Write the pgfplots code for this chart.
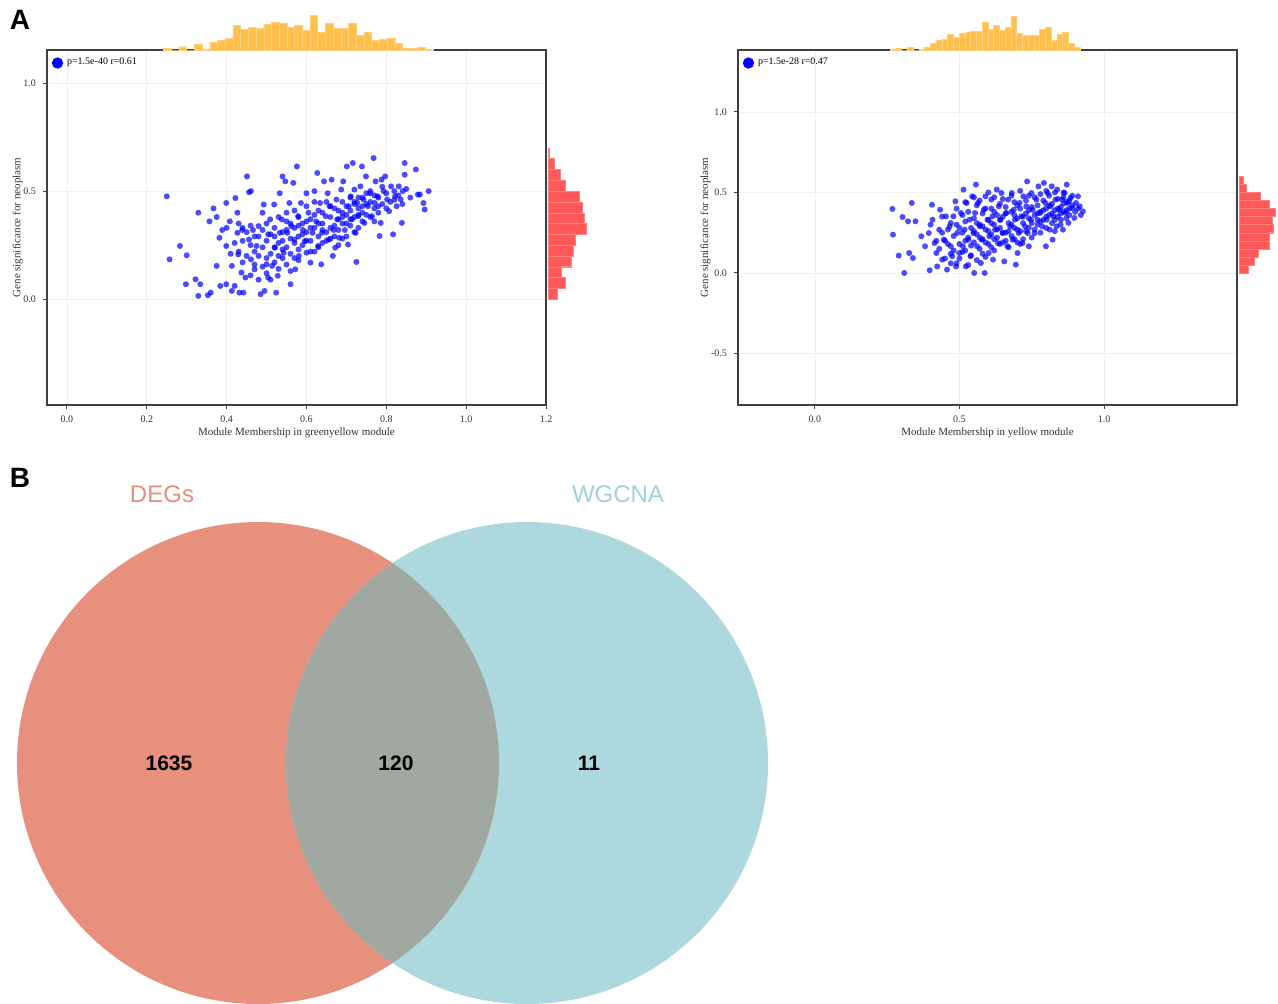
\documentclass[border=0pt]{standalone}
\usepackage{pgfplots}
\pgfplotsset{compat=1.18}
\usepackage{fontspec}
\setmainfont{Liberation Serif}
\newfontfamily\arial{Liberation Sans}
\definecolor{histor}{RGB}{255,192,77}
\definecolor{histred}{RGB}{255,88,88}
\definecolor{vred}{RGB}{232,144,126}
\definecolor{vblue}{RGB}{173,216,221}
\definecolor{vgray}{RGB}{161,168,162}
\definecolor{degtxt}{RGB}{234,140,122}
\definecolor{wgtxt}{RGB}{158,210,216}
\pgfplotsset{
  scat/.style={scale only axis, width=249.5pt, height=177.5pt,
    axis line style={draw=black!75, line width=0.7pt},
    grid=major, major grid style={gray!12, line width=0.4pt},
    tick align=outside, xtick pos=bottom, ytick pos=left, major tick length=2pt,
    tick style={black!75, line width=0.5pt},
    tick label style={font=\fontsize{5}{6}\selectfont, text=black!80},
    label style={font=\fontsize{5.5}{6.5}\selectfont, text=black!80},
    xlabel style={yshift=4.5pt}, ylabel style={yshift=-6.5pt},
    legend style={at={(0.005,0.995)}, anchor=north west, draw=none, fill=none,
      font=\fontsize{5}{6}\selectfont, inner sep=1pt},
    /pgf/number format/.cd, fixed, fixed zerofill, precision=1, assume math mode=true},
  scatpts/.style={only marks, mark=*, mark size=1.5pt, color=blue,
    mark options={fill=blue, draw=blue, fill opacity=0.7, draw opacity=0},
    legend image code/.code={\fill[blue] (0.05cm,0cm) circle (2.6pt);}},
  tophist/.style={hide axis, scale only axis, width=249.5pt, height=17.5pt, ymin=0, ymax=35, clip=false},
  sidehist/.style={hide axis, scale only axis, height=177.5pt, xmin=0, clip=false},
}
\pgfplotstableread{
x y
0.250 0.476
0.257 0.184
0.283 0.246
0.300 0.203
0.298 0.069
0.322 0.092
0.329 0.400
0.329 0.015
0.334 0.069
0.353 0.018
0.360 0.030
0.367 0.420
0.357 0.360
0.375 0.380
0.375 0.154
0.382 0.284
0.384 0.061
0.389 0.320
0.399 0.445
0.399 0.246
0.399 0.069
0.408 0.360
0.413 0.154
0.413 0.038
0.420 0.061
0.422 0.468
0.427 0.400
0.427 0.307
0.429 0.207
0.432 0.030
0.437 0.123
0.439 0.320
0.442 0.030
0.447 0.100
0.451 0.568
0.456 0.495
0.461 0.500
0.456 0.276
0.461 0.184
0.466 0.320
0.470 0.138
0.475 0.246
0.480 0.338
0.485 0.023
0.490 0.400
0.493 0.438
0.495 0.038
0.500 0.161
0.504 0.300
0.504 0.100
0.509 0.369
0.514 0.154
0.519 0.438
0.521 0.238
0.524 0.030
0.528 0.108
0.533 0.490
0.533 0.307
0.538 0.369
0.540 0.568
0.543 0.215
0.547 0.545
0.550 0.400
0.552 0.307
0.557 0.445
0.560 0.069
0.562 0.338
0.567 0.538
0.570 0.276
0.572 0.138
0.576 0.614
0.579 0.384
0.581 0.200
0.586 0.445
0.591 0.320
0.596 0.269
0.600 0.490
0.600 0.215
0.605 0.400
0.610 0.169
0.615 0.307
0.620 0.500
0.624 0.360
0.627 0.584
0.629 0.246
0.634 0.445
0.637 0.161
0.639 0.307
0.644 0.545
0.648 0.384
0.653 0.490
0.656 0.276
0.658 0.430
0.663 0.553
0.666 0.200
0.668 0.320
0.672 0.238
0.675 0.461
0.677 0.369
0.682 0.284
0.687 0.507
0.690 0.400
0.692 0.545
0.696 0.320
0.701 0.614
0.704 0.253
0.706 0.430
0.711 0.476
0.714 0.369
0.716 0.630
0.720 0.507
0.723 0.307
0.725 0.172
0.727 0.445
0.730 0.384
0.735 0.522
0.739 0.614
0.743 0.461
0.745 0.353
0.749 0.568
0.754 0.430
0.759 0.490
0.764 0.384
0.768 0.653
0.771 0.445
0.773 0.545
0.778 0.476
0.783 0.292
0.786 0.353
0.788 0.553
0.793 0.500
0.797 0.568
0.802 0.461
0.807 0.407
0.812 0.522
0.817 0.300
0.822 0.476
0.826 0.430
0.831 0.522
0.836 0.461
0.839 0.353
0.841 0.500
0.846 0.630
0.846 0.576
0.874 0.600
0.879 0.484
0.884 0.484
0.893 0.445
0.896 0.415
0.906 0.500
0.44 0.33
0.45 0.31
0.46 0.25
0.47 0.22
0.48 0.29
0.49 0.15
0.50 0.27
0.50 0.12
0.51 0.21
0.52 0.33
0.52 0.17
0.53 0.26
0.53 0.14
0.54 0.31
0.54 0.19
0.55 0.36
0.55 0.24
0.56 0.28
0.56 0.13
0.57 0.33
0.57 0.41
0.58 0.29
0.58 0.18
0.59 0.35
0.59 0.25
0.60 0.31
0.60 0.43
0.61 0.27
0.61 0.37
0.62 0.22
0.62 0.33
0.63 0.29
0.63 0.41
0.64 0.35
0.64 0.26
0.65 0.31
0.65 0.45
0.66 0.38
0.66 0.28
0.67 0.34
0.67 0.42
0.68 0.37
0.68 0.25
0.69 0.45
0.69 0.35
0.70 0.39
0.70 0.29
0.71 0.41
0.71 0.34
0.72 0.45
0.72 0.38
0.73 0.42
0.73 0.33
0.74 0.47
0.74 0.40
0.75 0.44
0.76 0.38
0.76 0.50
0.77 0.42
0.78 0.47
0.79 0.44
0.80 0.49
0.81 0.45
0.82 0.50
0.83 0.48
0.84 0.44
0.42 0.26
0.43 0.22
0.44 0.17
0.45 0.20
0.46 0.11
0.47 0.16
0.48 0.09
0.49 0.24
0.50 0.19
0.51 0.30
0.51 0.09
0.52 0.24
0.53 0.20
0.54 0.27
0.55 0.16
0.55 0.32
0.56 0.21
0.57 0.26
0.58 0.23
0.58 0.38
0.59 0.30
0.60 0.27
0.61 0.22
0.61 0.33
0.62 0.39
0.63 0.24
0.64 0.32
0.65 0.27
0.66 0.33
0.67 0.29
0.68 0.32
0.69 0.28
0.70 0.35
0.71 0.47
0.72 0.31
0.73 0.39
0.74 0.36
0.75 0.49
0.77 0.36
0.78 0.40
0.79 0.52
0.80 0.42
0.82 0.46
0.85 0.51
0.86 0.47
0.40 0.33
0.41 0.21
0.43 0.35
0.44 0.27
0.46 0.34
0.47 0.29
0.48 0.20
0.49 0.32
0.50 0.35
0.52 0.29
0.53 0.38
0.54 0.23
0.56 0.35
0.57 0.19
0.58 0.34
0.60 0.36
0.62 0.45
0.63 0.35
0.64 0.40
0.66 0.43
0.68 0.41
0.69 0.38
0.70 0.43
0.71 0.37
0.72 0.44
0.73 0.47
0.74 0.43
0.75 0.39
0.76 0.45
0.77 0.48
0.78 0.43
}\scatA
\pgfplotstableread{
x y
0.268 0.398
0.270 0.238
0.290 0.108
0.303 0.348
0.309 0.000
0.322 0.321
0.326 0.124
0.335 0.435
0.339 0.093
0.348 0.321
0.368 0.228
0.381 0.166
0.394 0.248
0.397 0.017
0.405 0.424
0.407 0.331
0.414 0.186
0.420 0.124
0.423 0.041
0.430 0.269
0.433 0.393
0.440 0.083
0.446 0.207
0.453 0.352
0.457 0.021
0.466 0.290
0.470 0.166
0.475 0.104
0.479 0.352
0.486 0.445
0.488 0.041
0.492 0.248
0.499 0.124
0.505 0.373
0.512 0.166
0.514 0.518
0.518 0.269
0.522 0.041
0.525 0.435
0.531 0.207
0.535 0.331
0.538 0.104
0.544 0.476
0.548 0.248
0.551 0.000
0.554 0.373
0.557 0.549
0.561 0.166
0.564 0.435
0.570 0.290
0.574 0.062
0.577 0.207
0.584 0.393
0.587 0.000
0.590 0.476
0.597 0.331
0.601 0.124
0.603 0.228
0.610 0.456
0.614 0.352
0.616 0.083
0.623 0.269
0.629 0.518
0.633 0.186
0.636 0.414
0.642 0.331
0.645 0.497
0.649 0.248
0.655 0.072
0.662 0.373
0.666 0.166
0.668 0.456
0.675 0.290
0.681 0.497
0.684 0.207
0.688 0.393
0.692 0.331
0.695 0.052
0.701 0.124
0.705 0.248
0.708 0.435
0.714 0.352
0.718 0.186
0.721 0.476
0.727 0.290
0.731 0.414
0.734 0.569
0.736 0.248
0.740 0.166
0.747 0.331
0.749 0.497
0.753 0.393
0.760 0.248
0.766 0.456
0.770 0.331
0.773 0.538
0.779 0.373
0.786 0.290
0.792 0.559
0.797 0.435
0.799 0.166
0.802 0.331
0.805 0.497
0.812 0.269
0.815 0.414
0.819 0.538
0.822 0.207
0.825 0.352
0.832 0.456
0.836 0.290
0.838 0.518
0.845 0.393
0.851 0.331
0.855 0.456
0.858 0.269
0.864 0.497
0.867 0.373
0.871 0.549
0.875 0.435
0.877 0.311
0.884 0.466
0.890 0.404
0.897 0.342
0.903 0.435
0.910 0.476
0.916 0.414
0.927 0.383
0.45 0.20
0.46 0.27
0.47 0.12
0.48 0.23
0.49 0.30
0.50 0.18
0.50 0.09
0.51 0.25
0.52 0.32
0.52 0.14
0.53 0.22
0.53 0.38
0.54 0.28
0.54 0.11
0.55 0.19
0.55 0.34
0.56 0.24
0.56 0.42
0.57 0.15
0.57 0.30
0.58 0.21
0.58 0.37
0.59 0.27
0.59 0.10
0.60 0.33
0.60 0.18
0.61 0.40
0.61 0.24
0.62 0.30
0.62 0.14
0.63 0.36
0.63 0.22
0.64 0.43
0.64 0.28
0.65 0.19
0.65 0.35
0.66 0.25
0.66 0.41
0.67 0.31
0.67 0.16
0.68 0.38
0.68 0.23
0.69 0.44
0.69 0.28
0.70 0.34
0.70 0.19
0.71 0.40
0.71 0.26
0.72 0.31
0.72 0.21
0.73 0.37
0.73 0.45
0.74 0.28
0.74 0.34
0.75 0.41
0.75 0.22
0.76 0.36
0.76 0.47
0.77 0.30
0.77 0.42
0.78 0.25
0.78 0.38
0.79 0.33
0.79 0.45
0.80 0.40
0.80 0.28
0.81 0.36
0.81 0.48
0.82 0.31
0.82 0.43
0.83 0.39
0.83 0.26
0.84 0.35
0.84 0.46
0.85 0.41
0.85 0.30
0.86 0.38
0.86 0.50
0.87 0.34
0.87 0.44
0.88 0.40
0.88 0.36
0.89 0.42
0.90 0.38
0.43 0.15
0.44 0.25
0.45 0.09
0.46 0.18
0.47 0.31
0.48 0.14
0.49 0.06
0.50 0.28
0.51 0.13
0.51 0.36
0.52 0.20
0.53 0.05
0.54 0.17
0.55 0.26
0.56 0.08
0.56 0.31
0.57 0.22
0.58 0.12
0.58 0.29
0.59 0.19
0.59 0.40
0.60 0.26
0.61 0.16
0.61 0.31
0.62 0.21
0.62 0.38
0.63 0.27
0.64 0.18
0.64 0.33
0.65 0.25
0.66 0.20
0.66 0.37
0.67 0.26
0.68 0.30
0.69 0.21
0.69 0.36
0.70 0.27
0.70 0.42
0.71 0.18
0.72 0.35
0.73 0.26
0.74 0.39
0.75 0.31
0.76 0.27
0.77 0.37
0.78 0.32
0.79 0.39
0.80 0.35
0.81 0.42
0.82 0.37
0.83 0.33
0.84 0.40
0.85 0.37
0.86 0.43
0.87 0.39
0.88 0.45
0.40 0.30
0.42 0.20
0.44 0.35
0.47 0.06
0.49 0.40
0.52 0.44
0.55 0.47
0.57 0.45
0.60 0.50
0.62 0.47
0.65 0.46
0.68 0.48
0.71 0.51
0.74 0.48
0.78 0.49
0.80 0.51
0.83 0.50
0.86 0.47
0.89 0.48
0.91 0.40
0.92 0.36
}\scatB
\begin{document}
\begin{tikzpicture}
\useasboundingbox (0pt,0pt) rectangle (639pt,-501.5pt);
% ---------- Panel A left ----------
\begin{axis}[scat, at={(23.5pt,-202.5pt)}, anchor=south west,
  xmin=-0.05, xmax=1.2, ymin=-0.49, ymax=1.153,
  xtick={0,0.2,0.4,0.6,0.8,1.0,1.2}, ytick={0,0.5,1},
  xlabel={Module Membership in greenyellow module},
  ylabel={Gene significance for neoplasm}]
\addplot[scatpts] table {\scatA};
\addlegendentry{p=1.5e-40 r=0.61}
\end{axis}
\begin{axis}[tophist, at={(23.5pt,-25pt)}, anchor=south west, xmin=-0.05, xmax=1.2]
\addplot[ybar interval, fill=histor, draw=histor!75!white, line width=0.2pt] coordinates {
(0.2420,1.7) (0.2613,0) (0.2806,3.3) (0.2999,0) (0.3192,6) (0.3385,1) (0.3578,8) (0.3771,10)
(0.3964,12) (0.4157,25) (0.4350,21) (0.4543,23) (0.4736,22) (0.4929,26) (0.5122,28) (0.5315,27)
(0.5508,23) (0.5701,25) (0.5894,20) (0.6087,35) (0.6280,18) (0.6473,27) (0.6666,22) (0.6859,22)
(0.7052,27) (0.7245,15) (0.7438,18) (0.7631,10) (0.7824,11) (0.8017,12) (0.8210,7) (0.8403,2)
(0.8596,2) (0.8789,3) (0.8982,1) (0.9175,0)};
\end{axis}
\begin{axis}[sidehist, at={(274pt,-202.5pt)}, anchor=south west, width=20pt, xmax=40,
  ymin=-0.49, ymax=1.153]
\addplot[xbar interval, fill=histred, draw=histred!75!white, line width=0.2pt] coordinates {
(9,0) (17,0.05) (13,0.10) (23,0.15) (25,0.20) (27,0.25) (38,0.30) (36,0.35) (34,0.40)
(31,0.45) (17,0.50) (12,0.55) (6,0.60) (1,0.65) (0,0.70)};
\end{axis}
% ---------- Panel A right ----------
\begin{axis}[scat, at={(369pt,-202.5pt)}, anchor=south west,
  xmin=-0.266, xmax=1.46, ymin=-0.82, ymax=1.385,
  xtick={0,0.5,1}, ytick={-0.5,0,0.5,1},
  xlabel={Module Membership in yellow module},
  ylabel={Gene significance for neoplasm}]
\addplot[scatpts] table {\scatB};
\addlegendentry{p=1.5e-28 r=0.47}
\end{axis}
\begin{axis}[tophist, at={(369pt,-25pt)}, anchor=south west, xmin=-0.266, xmax=1.46]
\addplot[ybar interval, fill=histor, draw=histor!75!white, line width=0.2pt] coordinates {
(0.2600,1) (0.2799,2) (0.2998,0) (0.3197,3) (0.3396,0) (0.3595,1) (0.3794,3) (0.3993,7)
(0.4192,10) (0.4391,11) (0.4590,16) (0.4789,13) (0.4988,17) (0.5187,18) (0.5386,19) (0.5585,19)
(0.5784,28) (0.5983,21) (0.6182,25) (0.6381,20) (0.6580,23) (0.6779,34) (0.6978,17) (0.7177,15)
(0.7376,15) (0.7575,15) (0.7774,21) (0.7973,23) (0.8172,10) (0.8371,16) (0.8570,18) (0.8769,7)
(0.8968,3) (0.9167,0)};
\end{axis}
\begin{axis}[sidehist, at={(619.5pt,-202.5pt)}, anchor=south west, width=19pt, xmax=38,
  ymin=-0.82, ymax=1.385]
\addplot[xbar interval, fill=histred, draw=histred!75!white, line width=0.2pt] coordinates {
(9.5,0) (15,0.05) (19,0.10) (30,0.15) (30,0.20) (34,0.25) (33.6,0.30) (36,0.35) (30,0.40)
(21,0.45) (7.6,0.50) (3.8,0.55) (0,0.60)};
\end{axis}
% ---------- Panel B ----------
\begin{axis}[at={(0pt,-501.5pt)}, anchor=south west, scale only axis,
  width=639pt, height=281.5pt, xmin=0, xmax=1278, ymin=440, ymax=1003,
  y dir=reverse, hide axis, clip=true]
\fill[vred] (258,763) circle[radius=241];
\fill[vblue] (527,763) circle[radius=241];
\begin{scope}
\clip (258,763) circle[radius=241];
\fill[vgray] (527,763) circle[radius=241];
\end{scope}
\node[font=\arial\bfseries\fontsize{10.5}{12}\selectfont] at (169,763) {1635};
\node[font=\arial\bfseries\fontsize{10.5}{12}\selectfont] at (396,763) {120};
\node[font=\arial\bfseries\fontsize{10.5}{12}\selectfont] at (589,763) {11};
\node[font=\arial\fontsize{12}{14}\selectfont, text=degtxt] at (162,494) {DEGs};
\node[font=\arial\fontsize{12}{14}\selectfont, text=wgtxt] at (618,494) {WGCNA};
\end{axis}
\node[font=\arial\bfseries\fontsize{14}{16}\selectfont] at (10pt,-10pt) {A};
\node[font=\arial\bfseries\fontsize{14}{16}\selectfont] at (10pt,-239pt) {B};
\end{tikzpicture}
\end{document}
